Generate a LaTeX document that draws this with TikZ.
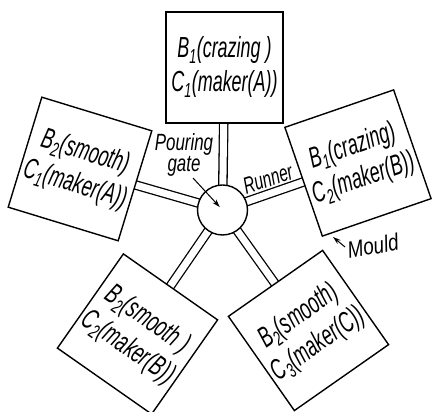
\documentclass[tikz,border=0pt]{standalone}
\usepackage{fontspec}
\setmainfont{Liberation Sans}
\newfontfamily\handbox[FakeStretch=0.62]{Liberation Sans}
\newfontfamily\handgate[FakeStretch=0.72]{Liberation Sans}
\newfontfamily\handrun[FakeStretch=0.66]{Liberation Sans}
\newfontfamily\handmould[FakeStretch=0.8]{Liberation Sans}
\usetikzlibrary{arrows.meta}
\pgfdeclarelayer{background}
\pgfsetlayers{background,main}
\begin{document}
\begin{tikzpicture}[x=1pt,y=1pt,
  mould/.style={draw, line width=1.4pt, fill=white, minimum size=115pt, inner sep=0pt},
  gate/.style={draw, circle, line width=1.4pt, fill=white, minimum size=50pt, inner sep=0pt},
  runner/.style={line width=1.3pt, double=white, double distance=7pt},
  boxtext/.style={font=\handbox\fontsize{29}{34}\selectfont\itshape, inner sep=0pt, align=center},
  lblgate/.style={font=\handgate\fontsize{23.5}{20}\selectfont\itshape, inner sep=0pt, align=center},
  lblrun/.style={font=\handrun\fontsize{23.5}{20}\selectfont\itshape, inner sep=0pt},
  lblmould/.style={font=\handmould\fontsize{23.5}{20}\selectfont\itshape, inner sep=0pt},
  pointer/.style={line width=1pt, -{Stealth[length=8pt,width=5pt]}}]
\useasboundingbox (0,0) rectangle (432,412);
% pouring gate
\node[gate] (g) at (222.5,202) {};
% moulds
\node[mould, minimum width=117pt, minimum height=111pt] (t) at (224.5,344.5) {};
\node[mould, rotate=-17] (l) at (80,243) {};
\node[mould, rotate=19] (r) at (358,249) {};
\node[mould, rotate=-35] (bl) at (137.5,78) {};
\node[mould, rotate=35] (br) at (308.5,81.5) {};
% texts
\node[boxtext] (tt) at (t.center) {B\textsubscript{1}(crazing )\\C\textsubscript{1}(maker(A))};
\node[boxtext, rotate=-17] (lt) at (l.center) {B\textsubscript{2}(smooth)\\C\textsubscript{1}(maker(A))};
\node[boxtext, rotate=19] (rt) at (r.center) {B\textsubscript{1}(crazing)\\C\textsubscript{2}(maker(B))};
\node[boxtext, rotate=-35] (blt) at (bl.center) {B\textsubscript{2}(smooth )\\C\textsubscript{2}(maker(B))};
\node[boxtext, rotate=35] (brt) at (br.center) {B\textsubscript{2}(smooth)\\C\textsubscript{3}(maker(C))};
% runners
\begin{pgfonlayer}{background}
\fill[white] (0,0) rectangle (432,412);
\foreach \m in {t,l,r,bl,br} \draw[runner] (g.center) -- (\m.center);
\end{pgfonlayer}
% labels
\node[lblgate] (pg) at (184,257) {Pouring\\gate};
\coordinate (pgs) at (193,234);
\draw[pointer, shorten >=4pt] (pgs) -- (g.center);
\node[lblrun, rotate=18] (rl) at (268,233) {Runner};
\node[lblmould, rotate=10] (ml) at (373,166) {Mould};
\coordinate (ms) at (345,165);
\coordinate (mt) at (333,175);
\draw[pointer] (ms) -- (mt);
\end{tikzpicture}
\end{document}
